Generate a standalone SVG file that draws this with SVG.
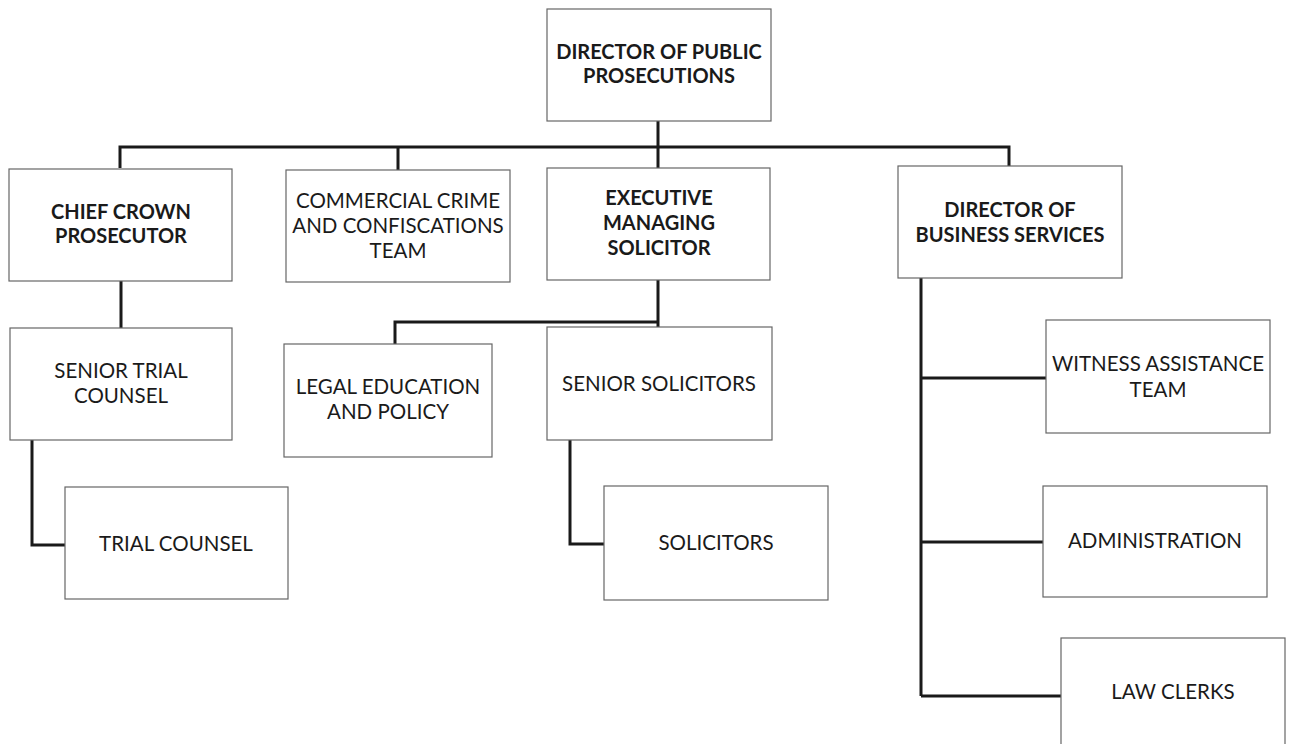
<svg xmlns="http://www.w3.org/2000/svg" width="1290" height="744" viewBox="0 0 1290 744">
<style>
.box{fill:#ffffff;stroke:#666666;stroke-width:1.2}
.t{font-family:Lato,"Liberation Sans",sans-serif;font-size:20.5px;fill:#1a1a1a;text-anchor:middle}
.b{font-weight:bold;font-size:20px}
.c{fill:none;stroke:#1a1a1a;stroke-width:3}
</style>
<rect width="1290" height="744" fill="#ffffff"/>
<g id="connectors">
<path class="c" d="M658 121V147M120 168V147H1009V166M398 147V170M658 147V168"/>
<path class="c" d="M121 281V328M32 440V545H65"/>
<path class="c" d="M658 280V327M658 322H395V344"/>
<path class="c" d="M570 440V544H604"/>
<path class="c" d="M921 278V696M921 378H1046M921 542H1043M921 696H1061"/>
</g>
<g id="n_dpp"><rect class="box" x="547" y="9" width="224" height="112"/><text class="t b" x="659" y="59">DIRECTOR OF PUBLIC</text><text class="t b" x="659" y="83">PROSECUTIONS</text></g>
<g id="n_ccp"><rect class="box" x="9" y="169" width="223" height="112"/><text class="t b" x="121" y="219">CHIEF CROWN</text><text class="t b" x="121" y="243">PROSECUTOR</text></g>
<g id="n_ccct"><rect class="box" x="286" y="170" width="224" height="112"/><text class="t" x="398" y="208">COMMERCIAL CRIME</text><text class="t" x="398" y="233">AND CONFISCATIONS</text><text class="t" x="398" y="258">TEAM</text></g>
<g id="n_ems"><rect class="box" x="547" y="168" width="223" height="112"/><text class="t b" x="659" y="205">EXECUTIVE</text><text class="t b" x="659" y="230">MANAGING</text><text class="t b" x="659" y="255">SOLICITOR</text></g>
<g id="n_dbs"><rect class="box" x="898" y="166" width="224" height="112"/><text class="t b" x="1010" y="217">DIRECTOR OF</text><text class="t b" x="1010" y="242">BUSINESS SERVICES</text></g>
<g id="n_stc"><rect class="box" x="10" y="328" width="222" height="112"/><text class="t" x="121" y="378">SENIOR TRIAL</text><text class="t" x="121" y="403">COUNSEL</text></g>
<g id="n_tc"><rect class="box" x="65" y="487" width="223" height="112"/><text class="t" x="176" y="551">TRIAL COUNSEL</text></g>
<g id="n_lep"><rect class="box" x="284" y="344" width="208" height="113"/><text class="t" x="388" y="394">LEGAL EDUCATION</text><text class="t" x="388" y="419">AND POLICY</text></g>
<g id="n_ss"><rect class="box" x="547" y="327" width="225" height="113"/><text class="t" x="659" y="391">SENIOR SOLICITORS</text></g>
<g id="n_sol"><rect class="box" x="604" y="486" width="224" height="114"/><text class="t" x="716" y="550">SOLICITORS</text></g>
<g id="n_wat"><rect class="box" x="1046" y="320" width="224" height="113"/><text class="t" x="1158" y="371">WITNESS ASSISTANCE</text><text class="t" x="1158" y="397">TEAM</text></g>
<g id="n_adm"><rect class="box" x="1043" y="486" width="224" height="111"/><text class="t" x="1155" y="548">ADMINISTRATION</text></g>
<g id="n_lc"><rect class="box" x="1061" y="638" width="224" height="112"/><text class="t" x="1173" y="699">LAW CLERKS</text></g>
</svg>
